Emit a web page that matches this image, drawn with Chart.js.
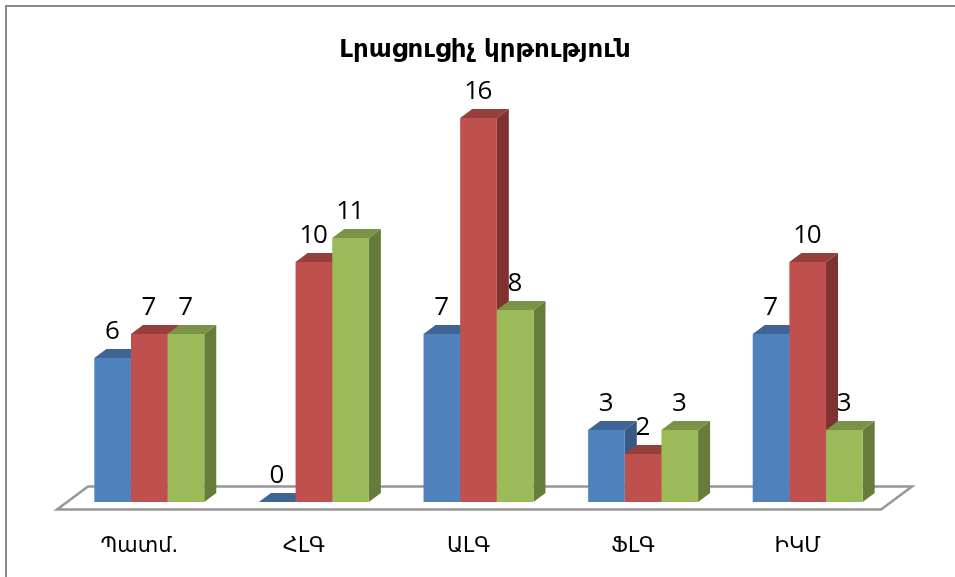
<!DOCTYPE html>
<html>
<head>
<meta charset="utf-8">
<style>
  html, body { margin: 0; padding: 0; background: #fff; }
  #wrap { position: relative; width: 955px; height: 577px; }
  #frame { position: absolute; left: 5px; top: 5px; width: 950px; height: 572px; border-left: 2px solid #8a8a8a; border-top: 2px solid #8a8a8a; box-sizing: border-box; pointer-events: none; }
</style>
<script src="https://cdn.jsdelivr.net/npm/chart.js@4"></script>
</head>
<body>
<div id="wrap">
  <canvas id="chart" width="955" height="577"></canvas>
  <div id="frame"></div>
</div>
<script>
const categories = ["Պատմ.", "ՀԼԳ", "ԱԼԳ", "ՖԼԳ", "ԻԿՄ"];
const series1 = [6, 0, 7, 3, 7];
const series2 = [7, 10, 16, 2, 10];
const series3 = [7, 11, 8, 3, 3];

const fronts = ["#4F81BD", "#C0504D", "#9BBB59"];
const tops = ["#3E6594", "#963F3D", "#7A9346"];
const sides = ["#375A84", "#7F3331", "#667C3B"];

const depthX = 12;
const depthY = 9;

// fake 3d: floor and bar faces go under the library's own front faces
const bars3d = {
  id: "bars3d",
  beforeDatasetsDraw(chart) {
    const { ctx, chartArea } = chart;
    const b = chartArea.bottom;
    const poly = (pts, fill) => {
      ctx.beginPath();
      pts.forEach((p, i) => (i ? ctx.lineTo(p[0], p[1]) : ctx.moveTo(p[0], p[1])));
      ctx.closePath();
      ctx.fillStyle = fill;
      ctx.fill();
    };
    ctx.save();
    // floor
    ctx.beginPath();
    ctx.moveTo(chartArea.left - 10, b + 7.5);
    ctx.lineTo(chartArea.right - 9, b + 7.5);
    ctx.lineTo(chartArea.right + 22, b - 15.5);
    ctx.lineTo(chartArea.left + 21, b - 15.5);
    ctx.closePath();
    ctx.strokeStyle = "#969696";
    ctx.lineWidth = 2.5;
    ctx.stroke();

    chart.data.datasets.forEach((ds, di) => {
      chart.getDatasetMeta(di).data.forEach((bar) => {
        const l = bar.x - bar.width / 2;
        const r = bar.x + bar.width / 2;
        poly([[r, bar.y], [r + depthX, bar.y - depthY], [r + depthX, b - depthY], [r, b]], sides[di]);
        poly([[l, bar.y], [l + depthX, bar.y - depthY], [r + depthX, bar.y - depthY], [r, bar.y]], tops[di]);
      });
    });
    ctx.restore();
  },
  afterDatasetsDraw(chart) {
    const { ctx } = chart;
    ctx.save();
    ctx.font = "26px 'Open Sans'";
    ctx.letterSpacing = "-1.5px";
    ctx.fillStyle = "#000";
    ctx.textAlign = "center";
    ctx.textBaseline = "middle";
    chart.data.datasets.forEach((ds, di) => {
      chart.getDatasetMeta(di).data.forEach((bar, i) => {
        ctx.fillText(ds.data[i], bar.x - 1, bar.y - 26.5);
      });
    });
    ctx.restore();
  },
};

new Chart(document.getElementById("chart"), {
  type: "bar",
  data: {
    labels: categories,
    datasets: [
      { label: "Series 1", data: series1, backgroundColor: fronts[0] },
      { label: "Series 2", data: series2, backgroundColor: fronts[1] },
      { label: "Series 3", data: series3, backgroundColor: fronts[2] },
    ],
  },
  plugins: [bars3d],
  options: {
    responsive: false,
    animation: false,
    events: [],
    layout: { padding: { left: 67, right: 52, top: 0, bottom: 0 } },
    datasets: { bar: { categoryPercentage: 0.668, barPercentage: 1 } },
    plugins: {
      legend: { display: false },
      tooltip: { enabled: false },
      title: {
        display: true,
        text: "Լրացուցիչ կրթություն",
        color: "#000",
        font: { family: "'DejaVu Sans'", size: 24.5, weight: "bold" },
        padding: { top: 36, bottom: 52.6 },
      },
    },
    scales: {
      x: {
        grid: { display: false },
        border: { display: false },
        ticks: {
          color: "#000",
          font: { family: "'DejaVu Sans'", size: 21 },
          padding: 24,
          labelOffset: -10,
          maxRotation: 0,
        },
        afterFit(scale) { scale.height = 75; },
      },
      y: {
        position: "right",
        min: 0,
        max: 16,
        grid: { display: false },
        border: { display: false },
        ticks: { display: false },
        afterFit(scale) { scale.width = 13; },
      },
    },
  },
});
</script>
</body>
</html>
